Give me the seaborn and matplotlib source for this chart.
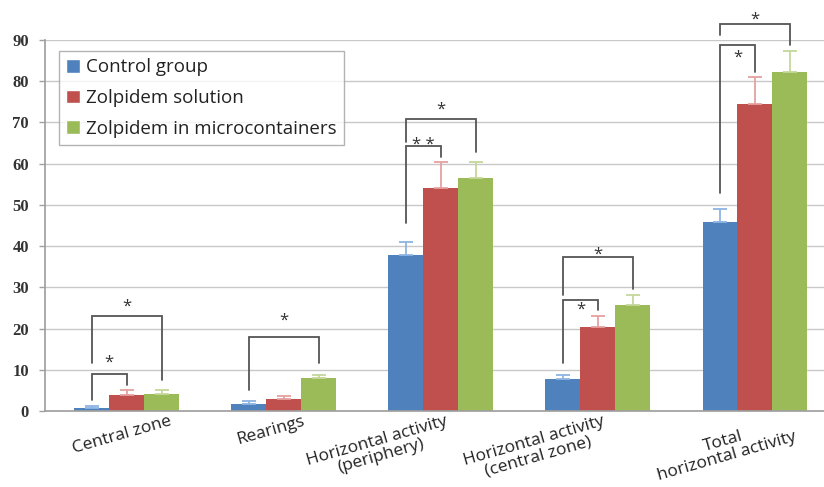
import matplotlib
matplotlib.use("Agg")
import matplotlib.pyplot as plt
import matplotlib.transforms as mtransforms
import seaborn as sns
import pandas as pd
import numpy as np

categories = ["Central zone", "Rearings", "Horizontal activity\n(periphery)",
              "Horizontal activity\n(central zone)", "Total\nhorizontal activity"]
series_names = ["Control group", "Zolpidem solution", "Zolpidem in microcontainers"]
control = [0.7, 1.7, 37.8, 7.8, 45.8]
solution = [3.9, 2.8, 54.1, 20.3, 74.5]
micro = [4.1, 8.0, 56.5, 25.7, 82.2]
control_err = [0.6, 0.7, 3.2, 0.9, 3.2]
solution_err = [1.2, 0.9, 6.3, 2.7, 6.5]
micro_err = [1.0, 0.8, 3.9, 2.5, 5.1]
yticks = [0, 10, 20, 30, 40, 50, 60, 70, 80, 90]

# significance brackets: (group, from series, to series, left foot, top, right foot, label)
brackets = [
    (0, 0, 1, 2.7, 9.0, 6.3, "*"),
    (0, 0, 2, 11.6, 23.0, 7.5, "*"),
    (1, 0, 2, 5.1, 18.0, 11.6, "*"),
    (2, 0, 1, 45.6, 64.3, 61.6, "* *"),
    (2, 0, 2, 65.2, 70.8, 62.8, "*"),
    (3, 0, 1, 11.6, 26.9, 24.5, "*"),
    (3, 0, 2, 28.2, 37.4, 29.6, "*"),
    (4, 0, 1, 52.9, 88.8, 82.2, "*"),
    (4, 0, 2, 91.2, 93.9, 88.8, "*"),
]
# label vertical position (data units)
bracket_label_y = [11.8, 25.2, 21.8, 64.6, 73.0, 24.6, 38.0, 85.6, 95.0]

colors = ["#4F81BD", "#C0504D", "#9BBB59"]
err_colors = ["#8EB4E3", "#E6A0A0", "#C4D79B"]

rows = []
for s, vals in zip(series_names, [control, solution, micro]):
    for c, v in zip(categories, vals):
        rows.append({"cat": c, "series": s, "value": v})
df = pd.DataFrame(rows)

sns.set_theme(style="white")
plt.rcParams["font.family"] = ["Open Sans", "DejaVu Sans"]

fig = plt.figure(figsize=(8.24, 4.87), dpi=100)
ax = fig.add_axes([45 / 824, 1 - 411 / 487, 1 - 45 / 824, (411 - 40) / 487])

sns.barplot(data=df, x="cat", y="value", hue="series", order=categories,
            hue_order=series_names, palette=colors, width=0.667, gap=0,
            errorbar=None, saturation=1, ax=ax, legend=True)

bar_containers = list(ax.containers)
errs = [control_err, solution_err, micro_err]
vals_all = [control, solution, micro]
for h, cont in enumerate(bar_containers):
    for i, bar in enumerate(cont.patches):
        bar.set_edgecolor("none")
        xc = bar.get_x() + bar.get_width() / 2
        ax.errorbar([xc], [vals_all[h][i]], yerr=[[0], [errs[h][i]]],
                    fmt="none", ecolor=err_colors[h], elinewidth=1.3,
                    capsize=5, capthick=1.3, zorder=3)

# brackets
for (g, a, b, y1, top, y2, lab), ly in zip(brackets, bracket_label_y):
    ba = bar_containers[a].patches[g]
    bb = bar_containers[b].patches[g]
    xa = ba.get_x() + ba.get_width() / 2
    xb = bb.get_x() + bb.get_width() / 2
    ax.plot([xa, xa, xb, xb], [y1, top, top, y2], color="#555555", lw=1.3,
            clip_on=False, zorder=4, solid_joinstyle="miter")
    ax.text((xa + xb) / 2, ly, lab, ha="center", va="center", fontsize=12,
            color="#333333", clip_on=False)

ax.set_ylim(0, 90)
ax.set_xlim(-0.52, 4.44)
ax.set_yticks(yticks)
ax.set_yticklabels([str(t) for t in yticks], fontfamily="Liberation Serif",
                   fontweight="bold", fontsize=12, color="#333333")
ax.yaxis.grid(True, color="#C8C8C8", lw=1)
ax.set_axisbelow(True)
ax.tick_params(axis="y", length=4.5, width=1, color="#A0A0A0", pad=7, left=True)
ax.tick_params(axis="x", length=0, pad=2)
for sp in ["top", "right"]:
    ax.spines[sp].set_visible(False)
ax.spines["left"].set_color("#A0A0A0")
ax.spines["bottom"].set_color("#A0A0A0")
ax.set_xlabel("")
ax.set_ylabel("")

ax.set_xticks(range(len(categories)))
labels = ax.set_xticklabels(categories, rotation=16, ha="center", va="top",
                            fontsize=12.5, color="#222222", multialignment="center",
                            linespacing=0.95)
offsets_px = [-5, -13, -62, -62, -30]
for lab, dx in zip(labels, offsets_px):
    lab.set_transform(lab.get_transform() +
                      mtransforms.ScaledTranslation(dx / 100, 0, fig.dpi_scale_trans))

leg = ax.legend(loc="upper left", bbox_to_anchor=(14 / 779, 0.97), frameon=True,
                fancybox=False, edgecolor="#A0A0A0", fontsize=13.5,
                handlelength=0.75, handleheight=0.75, handletextpad=0.32,
                labelspacing=0.68, borderpad=0.38, borderaxespad=0)
leg.get_frame().set_linewidth(1)
for t in leg.get_texts():
    t.set_color("#222222")

fig.savefig("out.png", dpi=100)
